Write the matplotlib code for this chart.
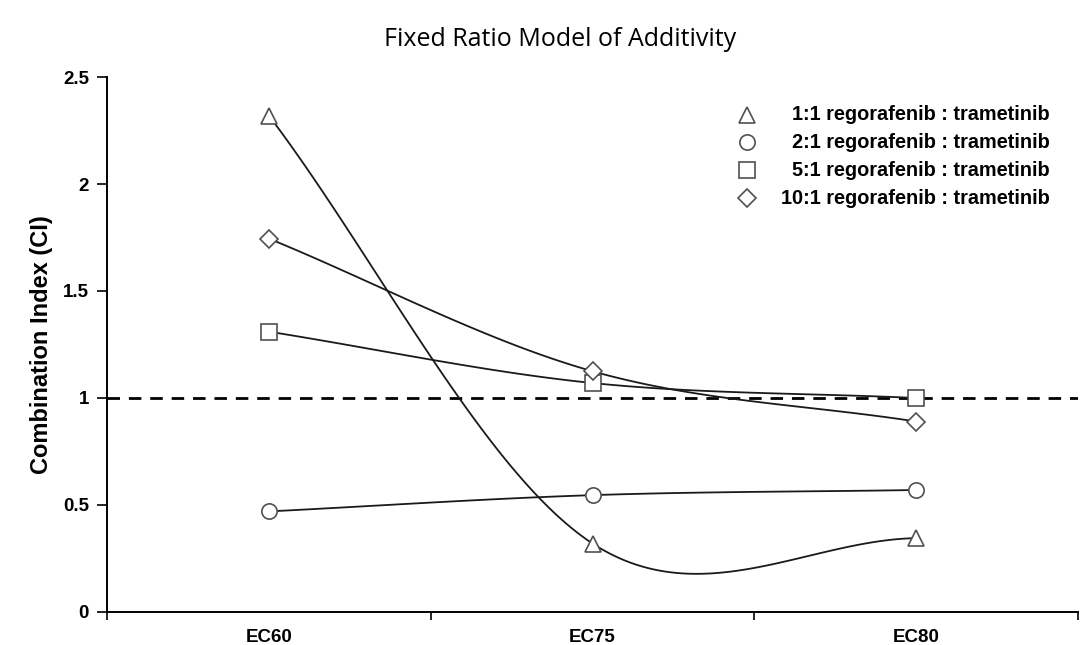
import numpy as np
import matplotlib
matplotlib.use("Agg")
import matplotlib.pyplot as plt
from matplotlib.lines import Line2D

categories = ["EC60", "EC75", "EC80"]
series_labels = ["1:1 regorafenib : trametinib",
                 "2:1 regorafenib : trametinib",
                 "5:1 regorafenib : trametinib",
                 "10:1 regorafenib : trametinib"]
ci_1_1 = [2.32, 0.32, 0.345]
ci_2_1 = [0.47, 0.546, 0.57]
ci_5_1 = [1.31, 1.07, 1.00]
ci_10_1 = [1.745, 1.125, 0.89]
markers = ["^", "o", "s", "D"]
yticks = [0, 0.5, 1, 1.5, 2, 2.5]
ytick_labels = ["0", "0.5", "1", "1.5", "2", "2.5"]


def smooth_curve(x, y, n=60):
    """Cubic Hermite (Catmull-Rom style) curve through the data points."""
    x = np.asarray(x, float)
    y = np.asarray(y, float)
    k = len(x)
    m = np.empty(k)
    m[0] = (y[1] - y[0]) / (x[1] - x[0])
    m[-1] = (y[-1] - y[-2]) / (x[-1] - x[-2])
    for i in range(1, k - 1):
        m[i] = (y[i + 1] - y[i - 1]) / (x[i + 1] - x[i - 1])
    xs_all, ys_all = [], []
    for i in range(k - 1):
        h = x[i + 1] - x[i]
        t = np.linspace(0, 1, n)
        h00 = 2 * t ** 3 - 3 * t ** 2 + 1
        h10 = t ** 3 - 2 * t ** 2 + t
        h01 = -2 * t ** 3 + 3 * t ** 2
        h11 = t ** 3 - t ** 2
        xs_all.append(x[i] + t * h)
        ys_all.append(h00 * y[i] + h10 * h * m[i] + h01 * y[i + 1] + h11 * h * m[i + 1])
    return np.concatenate(xs_all), np.concatenate(ys_all)


fig = plt.figure(figsize=(10.83, 6.45), dpi=100)
ax = fig.add_axes([0.0988, 0.0512, 0.8966, 0.8294])

xpos = np.arange(len(categories))
all_series = [ci_1_1, ci_2_1, ci_5_1, ci_10_1]
msizes = [12, 11, 11, 9]
edge = "#505050"

ax.axhline(1.0, color="black", lw=2.0, ls=(0, (4.5, 3.2)), zorder=1)

for vals, mk, ms in zip(all_series, markers, msizes):
    xs, ys = smooth_curve(xpos, vals)
    ax.plot(xs, ys, color="#1a1a1a", lw=1.3, zorder=2)
    ax.plot(xpos, vals, ls="none", marker=mk, ms=ms, mfc="white",
            mec=edge, mew=1.2, zorder=3)

ax.set_xlim(-0.5, 2.5)
ax.set_ylim(0, 2.5)
ax.set_xticks([-0.5, 0.5, 1.5, 2.5])
ax.set_xticklabels([])
ax.set_xticks(xpos, minor=True)
ax.set_xticklabels(categories, minor=True)
ax.tick_params(axis="x", which="minor", length=0, pad=12)
ax.tick_params(axis="x", which="major", length=6, width=1.2, direction="out")
ax.set_yticks(yticks)
ax.set_yticklabels(ytick_labels)
ax.tick_params(axis="y", length=7, width=1.2, direction="out", pad=6)

for lab in ax.get_xticklabels(minor=True) + ax.get_yticklabels():
    lab.set_fontfamily("Liberation Sans")
    lab.set_fontweight("bold")
    lab.set_fontsize(13.5)

for s in ["top", "right"]:
    ax.spines[s].set_visible(False)
for s in ["left", "bottom"]:
    ax.spines[s].set_linewidth(1.4)

ax.set_ylabel("Combination Index (CI)", fontfamily="Liberation Sans",
              fontweight="bold", fontsize=17, labelpad=7)

fig.text(0.517, 0.938, "Fixed Ratio Model of Additivity", ha="center",
         va="center", fontfamily="Open Sans", fontsize=18)

# legend drawn manually: markers left, text right-aligned
leg_y = [115, 142, 170, 198]
for lab, mk, ms, yy in zip(series_labels, markers, msizes, leg_y):
    fy = 1 - yy / 645
    fig.lines.append(Line2D([747 / 1083], [fy], transform=fig.transFigure,
                            ls="none", marker=mk, ms=ms, mfc="white",
                            mec=edge, mew=1.2))
    fig.text(1050 / 1083, fy, lab, ha="right", va="center",
             fontfamily="Liberation Sans", fontweight="bold", fontsize=14.3)

fig.savefig("out.png", dpi=100)
